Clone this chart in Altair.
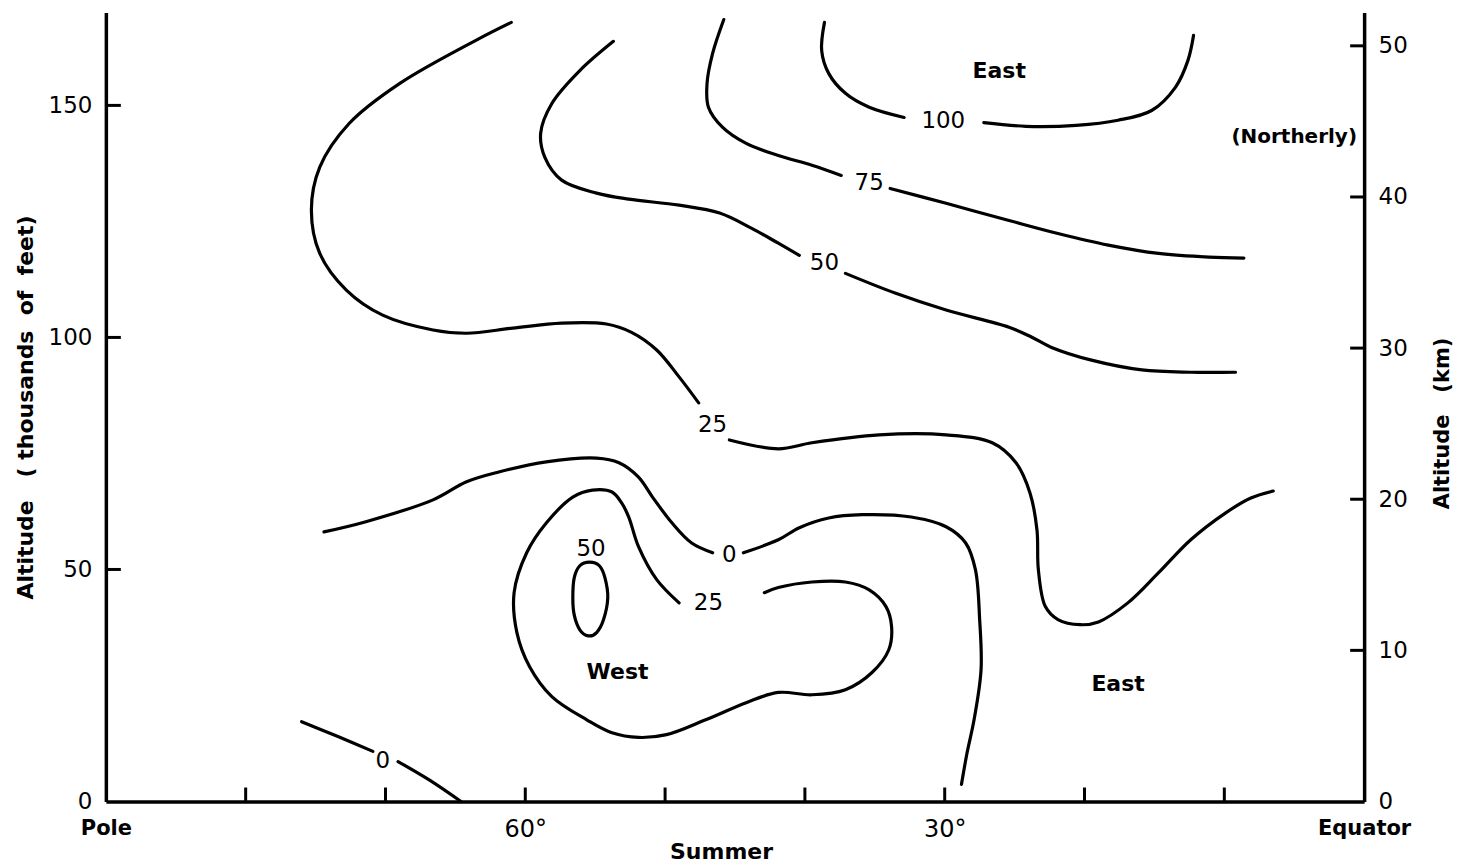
import altair as alt
import pandas as pd

FONT = "DejaVu Sans"

# ---------------- contour segments (latitude deg, altitude thousands of ft) ----------------
c0_pole_a_lat = [76.0, 73.4, 70.9]
c0_pole_a_alt = [17.2, 14.0, 10.8]
c0_pole_b_lat = [69.1, 66.9, 64.6]
c0_pole_b_alt = [8.6, 4.7, 0.0]

c25_upper_a_lat = [61.0, 63.3, 69.0, 72.6, 74.7, 75.3, 74.7, 72.8, 70.2, 66.6, 64.2, 60.9, 57.4, 54.2, 52.4, 50.6, 49.0, 47.6]
c25_upper_a_alt = [167.9, 164.4, 154.7, 146.1, 136.7, 127.4, 118.1, 110.2, 104.8, 101.6, 100.9, 102.0, 103.1, 102.9, 101.1, 97.3, 91.5, 85.9]
c25_upper_b_lat = [45.4, 41.9, 39.5, 34.7, 29.9, 26.6, 24.9, 23.9, 23.4, 23.3, 22.8, 21.9, 20.3, 19.0, 16.9, 14.7, 12.4, 9.9, 8.1, 6.5]
c25_upper_b_alt = [77.9, 76.0, 77.3, 79.0, 79.0, 77.3, 73.0, 66.5, 58.5, 49.9, 42.0, 39.2, 38.1, 38.7, 42.8, 49.3, 56.4, 62.2, 65.4, 66.9]

c50_a_lat = [53.7, 56.1, 58.1, 58.9, 58.6, 57.4, 54.9, 52.6, 49.0, 46.1, 43.8, 41.9, 40.4]
c50_a_alt = [163.8, 157.5, 150.4, 144.0, 138.8, 133.9, 131.1, 129.8, 128.5, 126.8, 123.5, 120.3, 117.7]
c50_b_lat = [37.1, 33.5, 29.9, 25.4, 23.8, 22.4, 19.5, 15.9, 12.4, 9.2]
c50_b_alt = [113.8, 109.5, 105.9, 102.2, 100.1, 97.9, 95.1, 93.0, 92.5, 92.5]

c75_a_lat = [45.8, 46.6, 47.0, 46.9, 45.9, 44.2, 41.9, 39.5, 37.4]
c75_a_alt = [168.5, 161.2, 154.7, 149.6, 145.3, 141.8, 139.2, 137.1, 134.9]
c75_b_lat = [33.9, 29.9, 25.4, 21.9, 18.3, 14.7, 11.1, 8.6]
c75_b_alt = [132.1, 128.9, 125.2, 122.4, 119.9, 118.1, 117.3, 117.1]

c100_a_lat = [38.6, 38.8, 38.3, 37.1, 35.4, 32.9]
c100_a_alt = [167.9, 161.8, 156.9, 152.6, 149.6, 147.4]
c100_b_lat = [27.2, 24.2, 20.6, 17.6, 15.2, 13.5, 12.6, 12.2]
c100_b_alt = [146.3, 145.5, 145.7, 146.8, 148.9, 153.9, 159.7, 165.1]

c0_mid_a_lat = [74.4, 71.4, 66.6, 64.2, 61.9, 58.5, 54.9, 53.3, 51.9, 50.9, 49.5, 48.1, 46.6]
c0_mid_a_alt = [58.1, 60.3, 65.0, 68.9, 71.0, 73.2, 74.0, 73.0, 69.9, 65.6, 60.0, 55.7, 53.6]
c0_mid_b_lat = [44.4, 41.9, 40.4, 38.3, 35.9, 32.4, 29.9, 28.5, 27.8, 27.5, 27.4, 27.9, 28.4, 28.8]
c0_mid_b_alt = [53.6, 56.4, 59.0, 61.1, 61.8, 61.3, 59.2, 55.7, 49.9, 39.2, 28.4, 17.6, 10.5, 3.7]

c25_loop_lat = [49.0, 50.6, 51.9, 52.6, 53.1, 53.8, 55.2, 56.6, 58.5, 59.9, 60.8, 60.6, 59.7, 58.1, 55.6, 53.8,
                51.9, 49.9, 47.1, 44.2, 41.9, 39.5, 37.1, 35.2, 34.0, 33.8, 34.2, 35.4, 37.1, 39.5, 41.9, 42.9]
c25_loop_alt = [42.8, 47.8, 54.9, 61.3, 64.3, 66.7, 67.1, 65.6, 60.0, 53.6, 45.0, 36.4, 29.1, 22.6, 17.6, 14.8,
                13.8, 14.4, 17.6, 21.3, 23.5, 23.0, 24.1, 27.8, 32.7, 37.7, 42.0, 45.6, 47.3, 47.3, 46.1, 45.0]

c50_core_lat = [55.4, 54.7, 54.3, 54.1, 54.4, 54.9, 55.5, 56.1, 56.5, 56.6, 56.5, 56.1]
c50_core_alt = [51.6, 50.8, 48.2, 43.9, 39.2, 36.4, 35.7, 37.0, 40.2, 43.9, 48.2, 50.8]

# ---------------- labels ----------------
contour_label_text = ["100", "75", "50", "25", "0", "25", "50", "0"]
contour_label_lat = [30.1, 35.4, 38.6, 46.6, 45.4, 46.9, 55.3, 70.2]
contour_label_alt = [146.6, 133.2, 116.0, 81.1, 53.2, 42.8, 54.4, 8.8]

region_text = ["East", "West", "East"]
region_lat = [26.1, 53.4, 17.6]
region_alt = [157.5, 27.8, 25.4]

note_text = ["(Northerly)"]
note_lat = [5.0]
note_alt = [143.1]

# ---------------- axes ----------------
x_label_values = [90, 60, 30, 0]
x_tick_values = [80, 70, 60, 50, 40, 30, 20, 10]
y_label_values = [0, 50, 100, 150]
y_tick_values = [50, 100, 150]
km_label_values = [0, 10, 20, 30, 40, 50]
km_tick_values = [10, 20, 30, 40, 50]

# ---------------- build tables ----------------
open_segments = [
    ("c0_pole_a", c0_pole_a_lat, c0_pole_a_alt),
    ("c0_pole_b", c0_pole_b_lat, c0_pole_b_alt),
    ("c25_upper_a", c25_upper_a_lat, c25_upper_a_alt),
    ("c25_upper_b", c25_upper_b_lat, c25_upper_b_alt),
    ("c50_a", c50_a_lat, c50_a_alt),
    ("c50_b", c50_b_lat, c50_b_alt),
    ("c75_a", c75_a_lat, c75_a_alt),
    ("c75_b", c75_b_lat, c75_b_alt),
    ("c100_a", c100_a_lat, c100_a_alt),
    ("c100_b", c100_b_lat, c100_b_alt),
    ("c0_mid_a", c0_mid_a_lat, c0_mid_a_alt),
    ("c0_mid_b", c0_mid_b_lat, c0_mid_b_alt),
    ("c25_loop", c25_loop_lat, c25_loop_alt),
]
rows = []
for name, lats, alts in open_segments:
    for k, (la, al) in enumerate(zip(lats, alts)):
        rows.append({"seg": name, "i": k, "lat": la, "alt": al})
df_lines = pd.DataFrame(rows)
df_core = pd.DataFrame({"seg": "c50_core", "i": range(len(c50_core_lat)),
                        "lat": c50_core_lat, "alt": c50_core_alt})
df_clab = pd.DataFrame({"t": contour_label_text, "lat": contour_label_lat, "alt": contour_label_alt})
df_reg = pd.DataFrame({"t": region_text, "lat": region_lat, "alt": region_alt})
df_note = pd.DataFrame({"t": note_text, "lat": note_lat, "alt": note_alt})
df_xt = pd.DataFrame({"lat": x_tick_values})
df_yt = pd.DataFrame({"alt": y_tick_values})
df_kt = pd.DataFrame({"km": km_tick_values})

W, H = 1260, 790

xs = alt.Scale(domain=[90, 0], nice=False, zero=False)
ys = alt.Scale(domain=[0, 170], nice=False, zero=False)
kms = alt.Scale(domain=[0, 52.2], nice=False, zero=False)

EDGE = "datum.value == 90 || datum.value == 0"
x_axis = alt.Axis(
    values=x_label_values,
    labelExpr="datum.value == 90 ? 'Pole' : (datum.value == 0 ? 'Equator' : datum.value + '°')",
    ticks=False, grid=False, domainColor="black", domainWidth=3.5,
    labelFont=FONT, labelColor="black", labelPadding=16,
    labelFontSize=alt.condition(EDGE, alt.value(21), alt.value(24)),
    labelFontWeight=alt.condition(EDGE, alt.value("bold"), alt.value("normal")),
    labelFlush=False, labelOverlap=False, labelBound=False,
    title="Summer", titleFont=FONT, titleFontSize=22, titleFontWeight="bold", titleColor="black",
    titlePadding=0, titleX=616,
)
y_axis = alt.Axis(
    values=y_label_values, ticks=False, grid=False, domainColor="black", domainWidth=3.5,
    labelFont=FONT, labelFontSize=23, labelColor="black", labelPadding=14,
    title="Altitude\u00a0\u00a0\u00a0(\u00a0thousands\u00a0\u00a0of\u00a0\u00a0feet)", titleFont=FONT, titleFontSize=22,
    titleFontWeight="bold", titleColor="black", titlePadding=11,
)
km_axis = alt.Axis(
    orient="right", values=km_label_values, ticks=False, grid=False, domainColor="black", domainWidth=3.5,
    labelFont=FONT, labelFontSize=23, labelColor="black", labelPadding=14,
    title="Altitude\u00a0\u00a0\u00a0(km)", titleFont=FONT, titleFontSize=21, titleFontWeight="bold",
    titleColor="black", titleAngle=270, titlePadding=45, titleY=411,
)

X = alt.X("lat:Q", scale=xs, axis=x_axis)
Y = alt.Y("alt:Q", scale=ys, axis=y_axis)

lines = alt.Chart(df_lines).mark_line(
    color="black", strokeWidth=3.2, interpolate="catmull-rom", strokeCap="round", strokeJoin="round"
).encode(x=X, y=Y, detail="seg:N", order=alt.Order("i:Q"))

core = alt.Chart(df_core).mark_line(
    color="black", strokeWidth=3.2, interpolate="cardinal-closed"
).encode(x=X, y=Y, detail="seg:N", order=alt.Order("i:Q"))

clab = alt.Chart(df_clab).mark_text(
    font=FONT, fontSize=23, color="black", align="center", baseline="middle"
).encode(x=X, y=Y, text="t:N")

reg = alt.Chart(df_reg).mark_text(
    font=FONT, fontSize=22, fontWeight="bold", color="black", align="center", baseline="middle"
).encode(x=X, y=Y, text="t:N")

note = alt.Chart(df_note).mark_text(
    font=FONT, fontSize=20, fontWeight="bold", color="black", align="center", baseline="middle"
).encode(x=X, y=Y, text="t:N")

xticks = alt.Chart(df_xt).mark_rule(color="black", strokeWidth=3).encode(
    x=X, y=alt.value(H), y2=alt.value(H - 14))

yticks = alt.Chart(df_yt).mark_rule(color="black", strokeWidth=3).encode(
    y=Y, x=alt.value(0), x2=alt.value(15))

left = alt.layer(lines, core, clab, reg, note, xticks, yticks)

right = alt.Chart(df_kt).mark_rule(color="black", strokeWidth=3).encode(
    y=alt.Y("km:Q", scale=kms, axis=km_axis), x=alt.value(W), x2=alt.value(W - 14))

chart = alt.layer(left, right).resolve_scale(y="independent").properties(
    width=W, height=H,
    autosize=alt.AutoSizeParams(type="none"),
    padding={"left": 98, "top": 4, "right": 91, "bottom": 63},
    background="white",
).configure_view(stroke=None)

chart.save("out.html", embed_options={"renderer": "svg", "actions": False})
